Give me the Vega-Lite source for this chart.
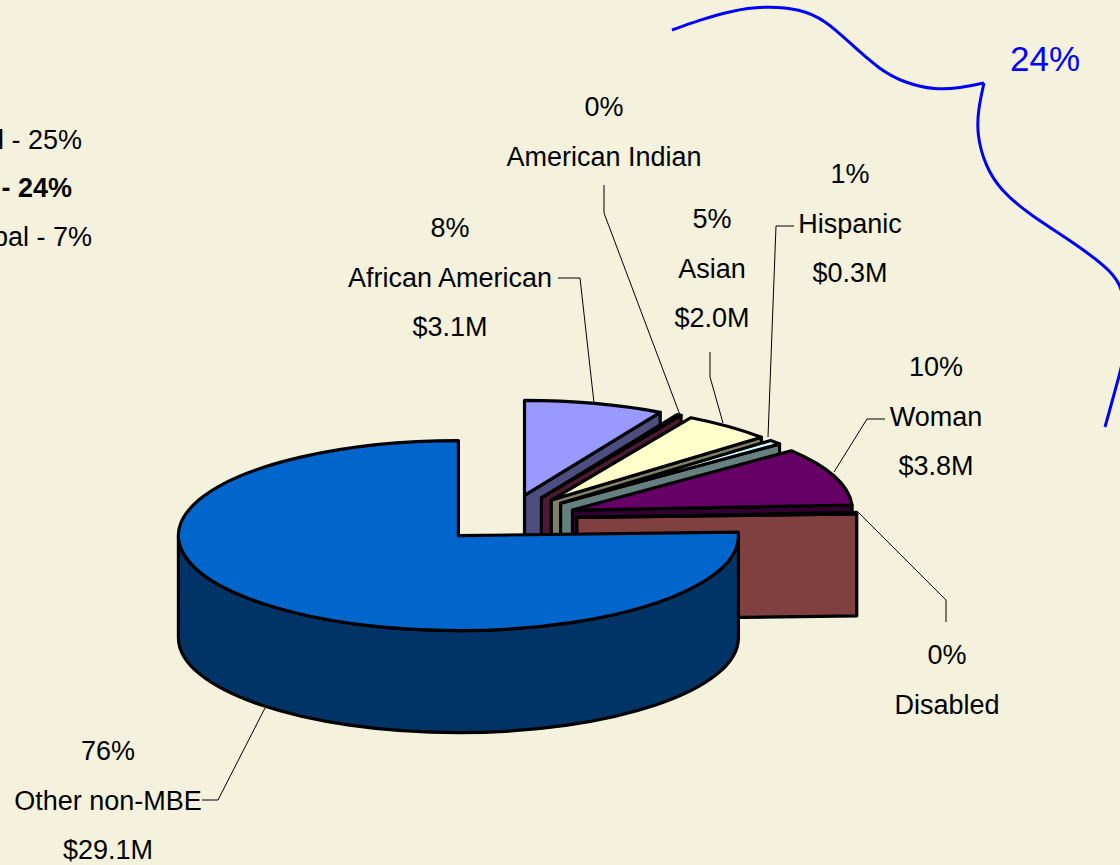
{
"$schema":"https://vega.github.io/schema/vega-lite/v6.json",
"width":1120,"height":865,"padding":0,"autosize":{"type":"none"},
"background":"#F4F2DC",
"config":{"view":{"stroke":null}},
"datasets":{
"slices":[
{"order":1,"slice":"African American","amount":3.1},
{"order":2,"slice":"American Indian","amount":0.1},
{"order":3,"slice":"Asian","amount":2.0},
{"order":4,"slice":"Hispanic","amount":0.3},
{"order":5,"slice":"Woman","amount":3.8},
{"order":6,"slice":"Disabled","amount":0.1},
{"order":7,"slice":"Other non-MBE","amount":29.1}
],
"labels":[
{"slice":"African American","lines":["8%","African American","$3.1M"],"x":-57,"y":-279.5},
{"slice":"American Indian","lines":["0%","American Indian"],"x":97,"y":-400.5},
{"slice":"Asian","lines":["5%","Asian","$2.0M"],"x":205,"y":-288.5},
{"slice":"Hispanic","lines":["1%","Hispanic","$0.3M"],"x":343,"y":-333.5},
{"slice":"Woman","lines":["10%","Woman","$3.8M"],"x":429,"y":-140.5},
{"slice":"Disabled","lines":["0%","Disabled"],"x":440,"y":147.5},
{"slice":"Other non-MBE","lines":["76%","Other non-MBE","$29.1M"],"x":-399,"y":243.5}
],
"notes":[
{"note":"l - 25%","x":-425,"y":-367.5},
{"note":"bal - 7%","x":-415,"y":-270.5}
],
"boldNotes":[
{"note":"- 24%","x":-435,"y":-319.5}
],
"leaders":[
{"id":"African American","i":1,"x":51,"y":-240.5},{"id":"African American","i":2,"x":73,"y":-240.5},{"id":"African American","i":3,"x":87,"y":-115.5},
{"id":"American Indian","i":1,"x":97,"y":-333.5},{"id":"American Indian","i":2,"x":97,"y":-305.5},{"id":"American Indian","i":3,"x":173,"y":-103.5},
{"id":"Asian","i":1,"x":203,"y":-166.5},{"id":"Asian","i":2,"x":203,"y":-141.5},{"id":"Asian","i":3,"x":216,"y":-95.5},
{"id":"Hispanic","i":1,"x":287,"y":-292.5},{"id":"Hispanic","i":2,"x":269,"y":-292.5},{"id":"Hispanic","i":3,"x":261,"y":-81.5},
{"id":"Woman","i":1,"x":378,"y":-99.5},{"id":"Woman","i":2,"x":360,"y":-99.5},{"id":"Woman","i":3,"x":327,"y":-46.5},
{"id":"Disabled","i":1,"x":351,"y":-6.5},{"id":"Disabled","i":2,"x":439,"y":81.5},{"id":"Disabled","i":3,"x":439,"y":103.5},
{"id":"Other non-MBE","i":1,"x":-305,"y":281.5},{"id":"Other non-MBE","i":2,"x":-289,"y":281.5},{"id":"Other non-MBE","i":3,"x":-242,"y":189.5}
],
"brace":[
{"seg":"a","i":1,"x":165,"y":-488.5},{"seg":"a","i":2,"x":193,"y":-498.5},{"seg":"a","i":3,"x":223,"y":-507.5},{"seg":"a","i":4,"x":258,"y":-512.5},{"seg":"a","i":5,"x":293,"y":-509.5},{"seg":"a","i":6,"x":318,"y":-498.5},{"seg":"a","i":7,"x":343,"y":-475.5},{"seg":"a","i":8,"x":373,"y":-448.5},{"seg":"a","i":9,"x":398,"y":-435.5},{"seg":"a","i":10,"x":428,"y":-428.5},{"seg":"a","i":11,"x":453,"y":-430.5},{"seg":"a","i":12,"x":477,"y":-435.5},
{"seg":"b","i":1,"x":477,"y":-435.5},{"seg":"b","i":2,"x":471,"y":-408.5},{"seg":"b","i":3,"x":470,"y":-383.5},{"seg":"b","i":4,"x":478,"y":-353.5},{"seg":"b","i":5,"x":493,"y":-328.5},{"seg":"b","i":6,"x":523,"y":-303.5},{"seg":"b","i":7,"x":563,"y":-278.5},{"seg":"b","i":8,"x":601,"y":-250.5},{"seg":"b","i":9,"x":613,"y":-235.5},{"seg":"b","i":10,"x":620,"y":-208.5},{"seg":"b","i":11,"x":620,"y":-173.5},{"seg":"b","i":12,"x":613,"y":-145.5},{"seg":"b","i":13,"x":598,"y":-91.5}
],
"callout":[{"note":"24%","x":538,"y":-447.5}]
},
"layer":[
{"data":{"name":"brace"},
 "mark":{"type":"line","interpolate":"basis","color":"#0000FF","strokeWidth":3},
 "encoding":{
  "x":{"field":"x","type":"quantitative","axis":null,"scale":{"domain":[-507,613],"nice":false,"zero":false}},
  "y":{"field":"y","type":"quantitative","axis":null,"scale":{"domain":[-518.5,346.5],"range":[0,865],"nice":false,"zero":false}},
  "detail":{"field":"seg"},
  "order":{"field":"i","type":"quantitative"}}},
{"data":{"name":"leaders"},
 "mark":{"type":"line","color":"#000000","strokeWidth":1},
 "encoding":{
  "x":{"field":"x","type":"quantitative"},
  "y":{"field":"y","type":"quantitative"},
  "detail":{"field":"id"},
  "order":{"field":"i","type":"quantitative"}}},
{"data":{"name":"slices"},
 "transform":[
  {"joinaggregate":[{"op":"sum","field":"amount","as":"total"}]},
  {"window":[{"op":"sum","field":"amount","as":"cum"}],"sort":[{"field":"order","order":"ascending"}]},
  {"calculate":"(datum.cum-datum.amount)/datum.total*2*PI","as":"t0"},
  {"calculate":"datum.cum/datum.total*2*PI","as":"t1"},
  {"calculate":"(datum.t0+datum.t1)/2","as":"mid"},
  {"calculate":"70*sin(datum.mid)","as":"cx"},
  {"calculate":"-70*0.34*cos(datum.mid)","as":"cy"},
  {"calculate":"round(28000*sin(datum.t0))/100","as":"x0"},
  {"calculate":"round(-9500*cos(datum.t0))/100","as":"y0"},
  {"calculate":"round(28000*sin(datum.t1))/100","as":"x1"},
  {"calculate":"round(-9500*cos(datum.t1))/100","as":"y1"},
  {"calculate":"'M0,0L'+datum.x0+','+datum.y0+'A280,95 0 '+(datum.t1-datum.t0>PI?1:0)+' 1 '+datum.x1+','+datum.y1+'Z'","as":"top"},
  {"calculate":"datum.t1<PI?'M0,0L'+datum.x1+','+datum.y1+'L'+datum.x1+','+(datum.y1+102)+'L0,102Z':'M280,0A280,95 0 0 1 -280,0L-280,102A280,95 0 0 0 280,102Z'","as":"wall"},
  {"fold":["wall","top"],"as":["part","path"]},
  {"calculate":"datum.order*2+(datum.part==='top'?1:0)","as":"z"},
  {"calculate":"datum.slice+' '+datum.part","as":"paint"}
 ],
 "mark":{"type":"point","filled":true,"size":4,"opacity":1,"stroke":"#000000","strokeWidth":3.2,"strokeJoin":"round"},
 "encoding":{
  "x":{"field":"cx","type":"quantitative"},
  "y":{"field":"cy","type":"quantitative"},
  "shape":{"field":"path","type":"nominal","scale":null},
  "order":{"field":"z","type":"quantitative"},
  "color":{"field":"paint","type":"nominal","legend":null,"scale":{
   "domain":["African American top","African American wall","American Indian top","American Indian wall","Asian top","Asian wall","Hispanic top","Hispanic wall","Woman top","Woman wall","Disabled top","Disabled wall","Other non-MBE top","Other non-MBE wall"],
   "range":["#9999FF","#4D4D80","#993366","#4D1A33","#FFFFCC","#808066","#CCFFFF","#668080","#660066","#330033","#FF8080","#804040","#0066CC","#003366"]}}}},
{"data":{"name":"labels"},
 "mark":{"type":"text","font":"Liberation Sans","fontSize":27,"lineHeight":49.5,"align":"center","baseline":"alphabetic","color":"#000000","dy":-2},
 "encoding":{
  "x":{"field":"x","type":"quantitative"},
  "y":{"field":"y","type":"quantitative"},
  "text":{"field":"lines"}}},
{"data":{"name":"notes"},
 "mark":{"type":"text","font":"Liberation Sans","fontSize":27,"align":"right","baseline":"alphabetic","color":"#000000","dy":-2},
 "encoding":{
  "x":{"field":"x","type":"quantitative"},
  "y":{"field":"y","type":"quantitative"},
  "text":{"field":"note"}}},
{"data":{"name":"boldNotes"},
 "mark":{"type":"text","font":"Liberation Sans","fontSize":27,"fontWeight":"bold","align":"right","baseline":"alphabetic","color":"#000000","dy":-2},
 "encoding":{
  "x":{"field":"x","type":"quantitative"},
  "y":{"field":"y","type":"quantitative"},
  "text":{"field":"note"}}},
{"data":{"name":"callout"},
 "mark":{"type":"text","font":"Liberation Sans","fontSize":35,"align":"center","baseline":"alphabetic","color":"#0000FF"},
 "encoding":{
  "x":{"field":"x","type":"quantitative"},
  "y":{"field":"y","type":"quantitative"},
  "text":{"field":"note"}}}
]
}
